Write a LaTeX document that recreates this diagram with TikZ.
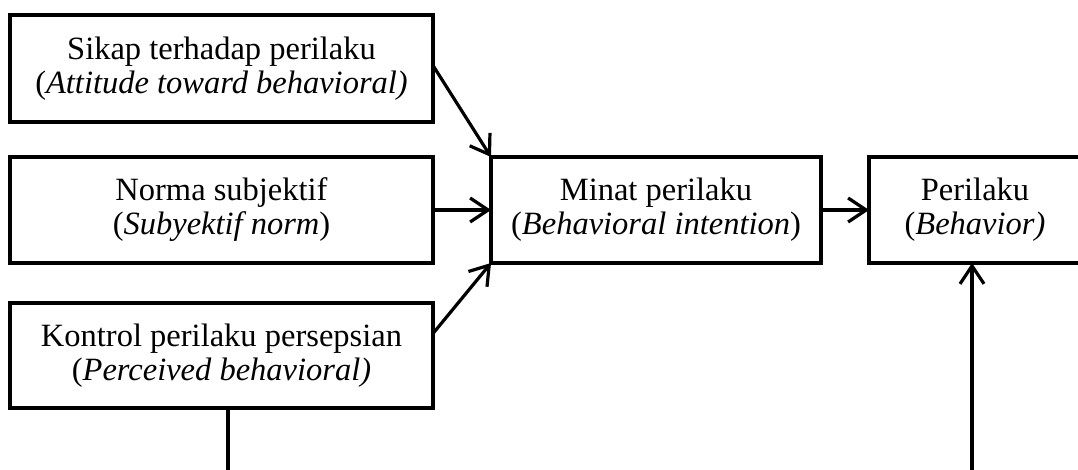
\documentclass[tikz,border=0pt]{standalone}
\usepackage{fontspec}
\setmainfont{Liberation Serif}[ItalicFont={Liberation Serif Italic},BoldFont={Liberation Serif Bold}]
\usetikzlibrary{arrows.meta}
\begin{document}
\begin{tikzpicture}[x=1pt,y=-1pt,
  box/.style={draw=black,line width=4.5pt,rectangle,inner sep=0pt,outer sep=0pt,
    align=center,font=\fontsize{32.5}{34}\selectfont},
  arr/.style={line width=3.2pt,-{Straight Barb[length=18pt,width=24pt,line width=3.2pt]}},
  conn/.style={line width=3.2pt}]
\useasboundingbox (0,0) rectangle (1078,470);
\clip (0,0) rectangle (1078,470);
\fill[white] (0,0) rectangle (1078,470);
\node[box,minimum width=423pt,minimum height=107pt] (sikap) at (221.5,68.5)
  {Sikap terhadap perilaku\\(\textit{Attitude toward behavioral)}};
\node[box,minimum width=423pt,minimum height=106pt] (norma) at (221.5,210)
  {Norma subjektif\\(\textit{Subyektif norm})};
\node[box,minimum width=423pt,minimum height=105pt] (kontrol) at (221.5,355.5)
  {Kontrol perilaku persepsian\\(\textit{Perceived behavioral)}};
\node[box,minimum width=330pt,minimum height=106pt] (minat) at (656,210)
  {Minat perilaku\\(\textit{Behavioral intention})};
\node[box,minimum width=212pt,minimum height=106pt] (perilaku) at (975,210)
  {Perilaku\\(\textit{Behavior)}};
\coordinate (kb) at (228,480);
\coordinate (pb) at (972,480);
\draw[arr] ([yshift=3pt]sikap.east) -- (minat.north west);
\draw[arr] (norma.east) -- (minat.west);
\draw[arr] ([yshift=22pt]kontrol.east) -- (minat.south west);
\draw[arr] (minat.east) -- (perilaku.west);
\draw[conn] (kontrol.south -| kb) -- (kb);
\draw[arr] (pb) -- (pb |- perilaku.south);
\end{tikzpicture}
\end{document}
